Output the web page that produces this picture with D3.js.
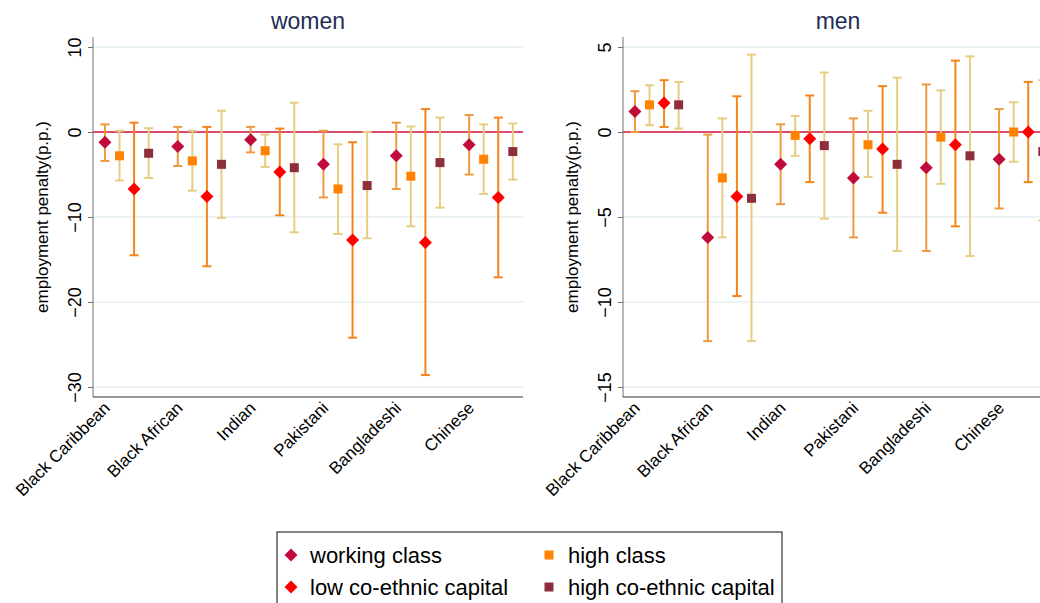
<!DOCTYPE html>
<html>
<head>
<meta charset="utf-8">
<script src="https://cdn.jsdelivr.net/npm/d3@7"></script>
<style>
  body { margin: 0; background: #fff; }
  svg { display: block; font-family: 'Liberation Sans', Arial, sans-serif; }
</style>
</head>
<body>
<svg width="1040" height="603"></svg>
<script>
// categories and series
const categories = ['Black Caribbean', 'Black African', 'Indian', 'Pakistani', 'Bangladeshi', 'Chinese'];
const seriesNames = ['working class', 'high class', 'low co-ethnic capital', 'high co-ethnic capital'];

// [estimate, lower, upper] per category
const womenWorking = [[-1.2, -3.4, 0.9], [-1.7, -4.0, 0.6], [-0.9, -2.4, 0.6], [-3.8, -7.7, 0.15], [-2.8, -6.7, 1.1], [-1.5, -5.0, 2.0]];
const womenHigh = [[-2.8, -5.7, 0.15], [-3.4, -6.9, 0.15], [-2.2, -4.1, -0.3], [-6.7, -12.0, -1.45], [-5.2, -11.1, 0.65], [-3.2, -7.3, 0.9]];
const womenLowCo = [[-6.7, -14.5, 1.1], [-7.6, -15.8, 0.6], [-4.7, -9.8, 0.4], [-12.7, -24.2, -1.2], [-13.0, -28.6, 2.7], [-7.7, -17.1, 1.7]];
const womenHighCo = [[-2.5, -5.4, 0.45], [-3.8, -10.1, 2.5], [-4.2, -11.8, 3.45], [-6.3, -12.5, 0.0], [-3.6, -8.9, 1.7], [-2.3, -5.6, 1.0]];

const menWorking = [[1.2, 0.0, 2.4], [-6.2, -12.3, -0.15], [-1.9, -4.25, 0.45], [-2.7, -6.2, 0.8], [-2.1, -7.0, 2.8], [-1.6, -4.5, 1.35]];
const menHigh = [[1.6, 0.4, 2.75], [-2.7, -6.2, 0.8], [-0.2, -1.4, 0.95], [-0.75, -2.65, 1.25], [-0.3, -3.05, 2.45], [0.0, -1.75, 1.75]];
const menLowCo = [[1.7, 0.3, 3.05], [-3.8, -9.65, 2.1], [-0.4, -2.95, 2.15], [-1.0, -4.75, 2.7], [-0.75, -5.55, 4.2], [0.0, -2.95, 2.95]];
const menHighCo = [[1.6, 0.2, 2.95], [-3.9, -12.3, 4.55], [-0.8, -5.1, 3.5], [-1.9, -7.0, 3.2], [-1.4, -7.3, 4.45], [-1.15, -5.2, 3.05]];

const womenTicks = [10, 0, -10, -20, -30];
const menTicks = [5, 0, -5, -10, -15];

const markerColors = ['#c10b3a', '#ff8200', '#ff0000', '#8c2f3b'];
const ciColors = ['#ec9a40', '#e7cd82', '#f5841c', '#e7cd82'];
const markerShapes = ['diamond', 'square', 'diamond', 'square'];

var svg = d3.select('svg');

const plotW = 430,
  plotTop = 37,
  plotBottom = 397;

function marker(sel, shape, color) {
  if (shape == 'diamond') {
    sel.append('path').attr('d', 'M0,-6.5L6.5,0L0,6.5L-6.5,0Z').attr('fill', color);
  } else {
    sel.append('rect').attr('x', -4.5).attr('y', -4.5).attr('width', 9).attr('height', 9).attr('fill', color);
  }
}

function drawPanel(left, title, seriesData, yDomain, ticks) {
  const g = svg.append('g').attr('transform', `translate(${left},0)`);

  const x = d3.scaleLinear().domain([0.18, 29.7]).range([0, plotW]);
  const y = d3.scaleLinear().domain(yDomain).range([plotBottom, plotTop]);

  // title
  g.append('text')
    .attr('x', plotW / 2)
    .attr('y', 29)
    .attr('text-anchor', 'middle')
    .attr('font-size', '23px')
    .attr('fill', '#1f2d55')
    .text(title);

  // gridlines
  g.selectAll('.grid')
    .data(ticks.filter((t) => t != 0))
    .enter()
    .append('line')
    .attr('x1', 0)
    .attr('x2', plotW)
    .attr('y1', (d) => y(d))
    .attr('y2', (d) => y(d))
    .style('stroke', '#e6eff0')
    .style('stroke-width', 1.5);

  // reference line at 0
  g.append('line')
    .attr('x1', 0)
    .attr('x2', plotW)
    .attr('y1', y(0))
    .attr('y2', y(0))
    .style('stroke', '#cc1040')
    .style('stroke-width', 1.6);

  // y axis
  const yAxis = g.append('g').call(d3.axisLeft(y).tickValues(ticks).tickSize(5).tickFormat(d3.format('d')));
  yAxis.select('.domain').attr('d', `M0,${plotTop}V${plotBottom}`).style('stroke', '#707070');
  yAxis.selectAll('.tick line').style('stroke', '#707070');
  yAxis
    .selectAll('.tick text')
    .attr('x', null)
    .attr('dy', '0.35em')
    .attr('transform', 'translate(-18,0) rotate(-90)')
    .attr('text-anchor', 'middle')
    .attr('font-size', '18px')
    .attr('font-family', "'Liberation Sans', Arial, sans-serif")
    .attr('fill', '#000');

  // y title
  g.append('text')
    .attr('transform', `translate(-45,${(plotTop + plotBottom) / 2}) rotate(-90)`)
    .attr('text-anchor', 'middle')
    .attr('font-size', '17px')
    .text('employment penalty(p.p.)');

  // x axis line
  g.append('line')
    .attr('x1', 0)
    .attr('x2', plotW)
    .attr('y1', plotBottom)
    .attr('y2', plotBottom)
    .style('stroke', '#333')
    .style('stroke-width', 1.2);

  // category labels
  g.selectAll('.cat')
    .data(categories)
    .enter()
    .append('text')
    .attr('transform', (d, i) => `translate(${x(i * 5 + 1) + 6},${plotBottom + 12}) rotate(-45)`)
    .attr('text-anchor', 'end')
    .attr('font-size', '17px')
    .text((d) => d);

  // CIs and markers
  seriesData.forEach((arr, s) => {
    const sg = g.append('g');
    arr.forEach((v, i) => {
      const px = x(i * 5 + s + 1);
      sg.append('line')
        .attr('x1', px).attr('x2', px)
        .attr('y1', y(v[1])).attr('y2', y(v[2]))
        .style('stroke', ciColors[s]).style('stroke-width', 2);
      [v[1], v[2]].forEach((c) => {
        sg.append('line')
          .attr('x1', px - 4.5).attr('x2', px + 4.5)
          .attr('y1', y(c)).attr('y2', y(c))
          .style('stroke', ciColors[s]).style('stroke-width', 2);
      });
    });
  });
  seriesData.forEach((arr, s) => {
    arr.forEach((v, i) => {
      const m = g.append('g').attr('transform', `translate(${x(i * 5 + s + 1)},${y(v[0])})`);
      marker(m, markerShapes[s], markerColors[s]);
    });
  });
}

drawPanel(93, 'women', [womenWorking, womenHigh, womenLowCo, womenHighCo], [-31.18, 11.18], womenTicks);
drawPanel(623, 'men', [menWorking, menHigh, menLowCo, menHighCo], [-15.59, 5.59], menTicks);

// legend
const legend = svg.append('g').attr('transform', 'translate(277,532)');
legend.append('rect')
  .attr('x', 0).attr('y', 0).attr('width', 505).attr('height', 80)
  .style('fill', '#fff').style('stroke', '#333').style('stroke-width', 1.2);

const legendPos = [[14, 23], [272, 23], [14, 55], [272, 55]];
const legendOrder = [0, 1, 2, 3];
legendOrder.forEach((s, k) => {
  const p = legendPos[k];
  const m = legend.append('g').attr('transform', `translate(${p[0]},${p[1]})`);
  marker(m, markerShapes[s], markerColors[s]);
  legend.append('text')
    .attr('x', p[0] + 19)
    .attr('y', p[1] + 7.5)
    .attr('font-size', '22px')
    .text(seriesNames[s]);
});
</script>
</body>
</html>
